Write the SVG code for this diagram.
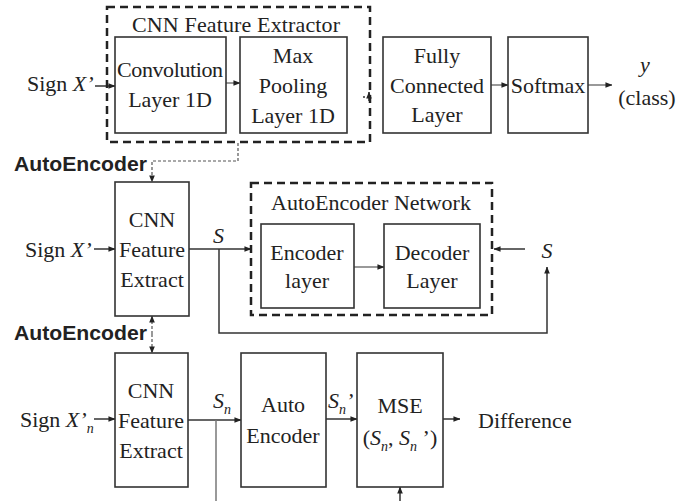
<svg xmlns="http://www.w3.org/2000/svg" width="691" height="501" viewBox="0 0 691 501" font-family="'Liberation Serif', 'Times New Roman', serif">
<defs>
<marker id="ah" viewBox="0 0 8 8" refX="7.5" refY="4" markerWidth="7" markerHeight="7" markerUnits="userSpaceOnUse" orient="auto-start-reverse">
<path d="M0,0.8 L8,4 L0,7.2 z" fill="#222"/>
</marker>
<style>
text{font-family:'Liberation Serif','Times New Roman',serif;font-size:22px;fill:#222}
.c{text-anchor:middle}
.i{font-style:italic}
.sub{font-size:14px;font-style:italic}
.b{font-family:'Liberation Sans',Arial,sans-serif;font-weight:bold;font-size:21px;fill:#222}
.box{fill:#fff;stroke:#333;stroke-width:1.6}
.dbox{fill:none;stroke:#222;stroke-width:2.5;stroke-dasharray:8,5}
.ln{fill:none;stroke:#333;stroke-width:1.5}
.gl{fill:none;stroke:#777;stroke-width:1.5}
.dot{fill:none;stroke:#555;stroke-width:1.2;stroke-dasharray:3,2}
.arr{marker-end:url(#ah)}
</style>
</defs>
<rect width="691" height="501" fill="#fff"/>

<g id="connectors">
<line class="ln arr" x1="95" y1="86" x2="115" y2="86"/>
<line class="gl arr" x1="226" y1="83" x2="240" y2="83"/>
<circle cx="364" cy="97" r="1" fill="#333"/>
<line class="ln arr" x1="369" y1="101" x2="369" y2="92"/>
<line class="gl arr" x1="491" y1="85" x2="508" y2="85"/>
<line class="gl arr" x1="588" y1="85" x2="612" y2="85"/>
<polyline class="dot arr" points="238,143 238,161 152,161 152,182"/>

<line class="ln arr" x1="94" y1="249" x2="115" y2="249"/>
<line class="ln arr" x1="189" y1="249" x2="251" y2="249"/>
<polyline class="ln arr" points="219,249 219,333 547,333 547,267"/>
<line class="ln arr" x1="525" y1="249" x2="494" y2="249"/>
<line class="gl arr" x1="354" y1="267" x2="384" y2="267"/>
<line class="dot arr" x1="152" y1="334" x2="152" y2="353"/>
<line class="dot arr" x1="152" y1="334" x2="152" y2="316"/>

<line class="ln arr" x1="94" y1="419" x2="115" y2="419"/>
<line class="ln arr" x1="188" y1="420" x2="241" y2="420"/>
<line class="gl" x1="216" y1="420" x2="216" y2="501"/>
<line class="ln arr" x1="326" y1="419" x2="357" y2="419"/>
<line class="ln arr" x1="443" y1="419" x2="460" y2="419"/>
<line class="ln arr" x1="400" y1="501" x2="400" y2="487"/>
</g>

<g id="cnn-extractor-group">
<rect class="dbox" x="107" y="7" width="263" height="135"/>
<text class="c" x="236" y="32" textLength="208">CNN Feature Extractor</text>
</g>
<g id="conv">
<rect class="box" x="115" y="37" width="111" height="96" stroke="#111"/>
<text class="c" x="170" y="77" textLength="106">Convolution</text>
<text class="c" x="170" y="107">Layer 1D</text>
</g>
<g id="maxpool">
<rect class="box" x="240" y="37" width="107" height="96"/>
<text class="c" x="293" y="63">Max</text>
<text class="c" x="293" y="93">Pooling</text>
<text class="c" x="293" y="123">Layer 1D</text>
</g>
<g id="fc">
<rect class="box" x="383" y="37" width="108" height="96"/>
<text class="c" x="437" y="63">Fully</text>
<text class="c" x="437" y="93">Connected</text>
<text class="c" x="437" y="122">Layer</text>
</g>
<g id="softmax">
<rect class="box" x="508" y="37" width="80" height="96"/>
<text class="c" x="548" y="93">Softmax</text>
</g>
<g id="output-y">
<text class="c i" x="645" y="72">y</text>
<text class="c" x="647" y="105">(class)</text>
</g>
<g id="input1">
<text x="27" y="91">Sign <tspan class="i">X’</tspan></text>
</g>

<g id="label-ae1"><text class="b" x="14" y="171" textLength="133" lengthAdjust="spacingAndGlyphs">AutoEncoder</text></g>
<g id="label-ae2"><text class="b" x="14" y="340" textLength="133" lengthAdjust="spacingAndGlyphs">AutoEncoder</text></g>

<g id="input2">
<text x="25" y="257">Sign <tspan class="i">X’</tspan></text>
</g>
<g id="cnn2">
<rect class="box" x="115" y="182" width="74" height="134"/>
<text class="c" x="152" y="227">CNN</text>
<text class="c" x="152" y="257">Feature</text>
<text class="c" x="152" y="287">Extract</text>
</g>
<g id="label-s"><text class="i" x="213" y="243">S</text></g>
<g id="ae-network">
<rect class="dbox" x="251" y="183" width="241" height="132"/>
<text class="c" x="371" y="210">AutoEncoder Network</text>
</g>
<g id="encoder">
<rect class="box" x="261" y="224" width="93" height="84"/>
<text class="c" x="307" y="260">Encoder</text>
<text class="c" x="307" y="288">layer</text>
</g>
<g id="decoder">
<rect class="box" x="384" y="224" width="96" height="84"/>
<text class="c" x="432" y="260">Decoder</text>
<text class="c" x="432" y="288">Layer</text>
</g>
<g id="label-s2"><text class="c i" x="547" y="258">S</text></g>

<g id="input3">
<text x="20" y="427">Sign <tspan class="i">X’</tspan><tspan class="sub" dy="6">n</tspan></text>
</g>
<g id="cnn3">
<rect class="box" x="115" y="353" width="73" height="134"/>
<text class="c" x="151" y="398">CNN</text>
<text class="c" x="151" y="428">Feature</text>
<text class="c" x="151" y="458">Extract</text>
</g>
<g id="label-sn"><text class="i" x="213" y="408">S<tspan class="sub" dy="6">n</tspan></text></g>
<g id="autoencoder">
<rect class="box" x="241" y="353" width="85" height="134"/>
<text class="c" x="283" y="412">Auto</text>
<text class="c" x="283" y="443">Encoder</text>
</g>
<g id="label-sn2"><text class="i" x="328" y="408">S<tspan class="sub" dy="6">n</tspan><tspan dy="-6">’</tspan></text></g>
<g id="mse">
<rect class="box" x="357" y="353" width="86" height="134"/>
<text class="c" x="400" y="413">MSE</text>
<text class="c" x="400" y="445">(<tspan class="i">S</tspan><tspan class="sub" dy="6">n</tspan><tspan dy="-6">, </tspan><tspan class="i">S</tspan><tspan class="sub" dy="6">n</tspan><tspan dy="-6"> ’)</tspan></text>
</g>
<g id="difference"><text x="478" y="428">Difference</text></g>
</svg>
